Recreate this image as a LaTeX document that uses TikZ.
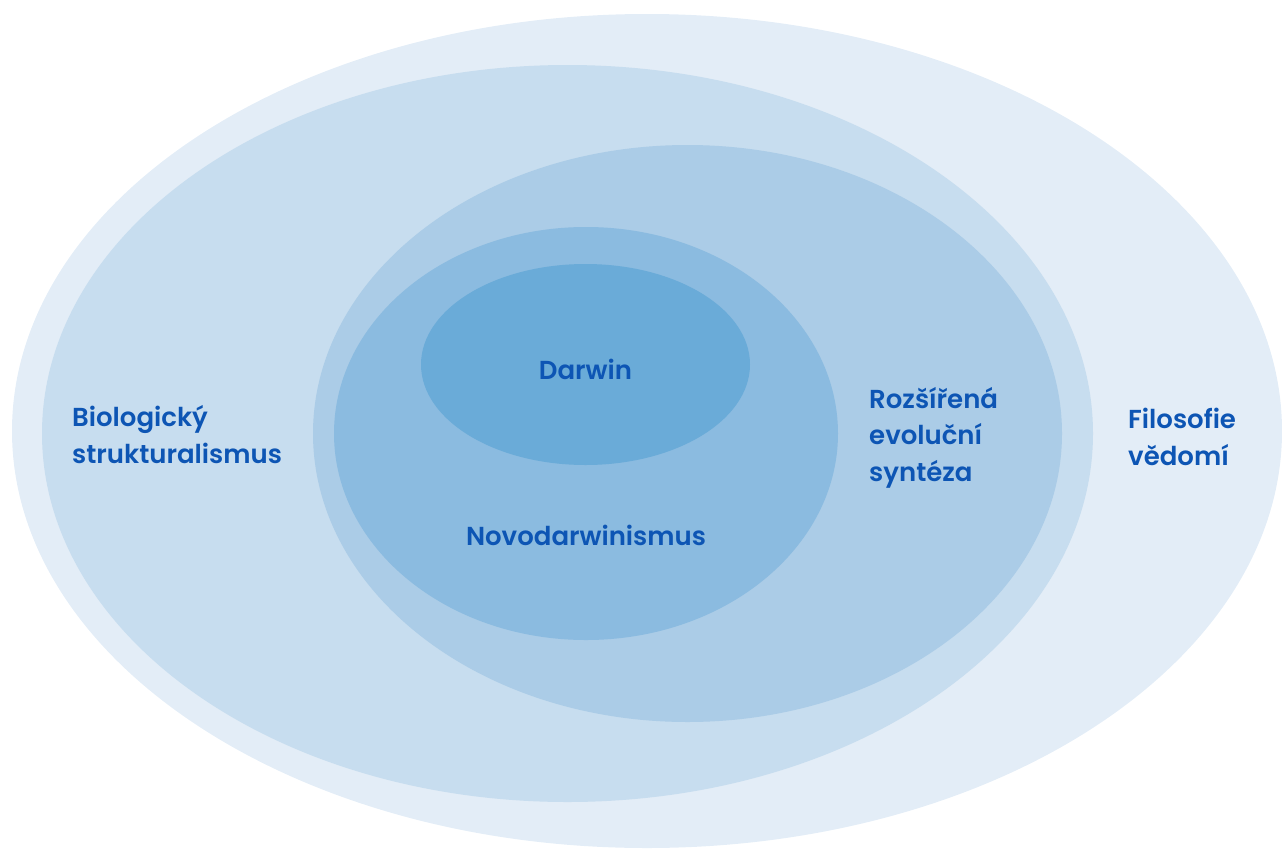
\documentclass[tikz,border=0pt]{standalone}
\usepackage{fontspec}
\setmainfont{Poppins}[BoldFont={Poppins SemiBold}]
\usetikzlibrary{shapes.geometric}
\definecolor{c1}{HTML}{E3EDF7}
\definecolor{c2}{HTML}{C7DDEF}
\definecolor{c3}{HTML}{ABCCE7}
\definecolor{c4}{HTML}{8BBBE0}
\definecolor{c5}{HTML}{6AABD8}
\definecolor{txt}{HTML}{0D55B4}
\tikzset{
  blob/.style={ellipse, draw=none, inner sep=0pt, fill=#1},
  lbl/.style={inner sep=0pt, text=txt, font=\fontsize{26}{36.5}\selectfont\bfseries, align=left, anchor=base west},
  clbl/.style={inner sep=0pt, text=txt, font=\fontsize{26}{36.5}\selectfont\bfseries, anchor=base}
}
\begin{document}
\begin{tikzpicture}[x=1pt,y=-1pt]
\useasboundingbox (0,0) rectangle (1282,849);
\node[blob=c1, minimum width=1270pt, minimum height=834pt] (outer) at (647,431) {};
\node[blob=c2, minimum width=1051pt, minimum height=737pt] (bio) at (567.5,433.5) {};
\node[blob=c3, minimum width=749pt, minimum height=577pt] (ext) at (687.5,433.5) {};
\node[blob=c4, minimum width=504pt, minimum height=413pt] (neo) at (586,433.5) {};
\node[blob=c5, minimum width=329pt, minimum height=201pt] (dar) at (585.5,364.5) {};
\node[clbl] (tdar) at (585.5,379) {Darwin};
\node[clbl] (tneo) at (586,545) {Novodarwinismus};
\node[lbl] (tbio) at (72,463) {Biologický\\strukturalismus};
\node[lbl] (text) at (869,481) {Rozšířená\\evoluční\\syntéza};
\node[lbl] (tfil) at (1128,465) {Filosofie\\vědomí};
\end{tikzpicture}
\end{document}
